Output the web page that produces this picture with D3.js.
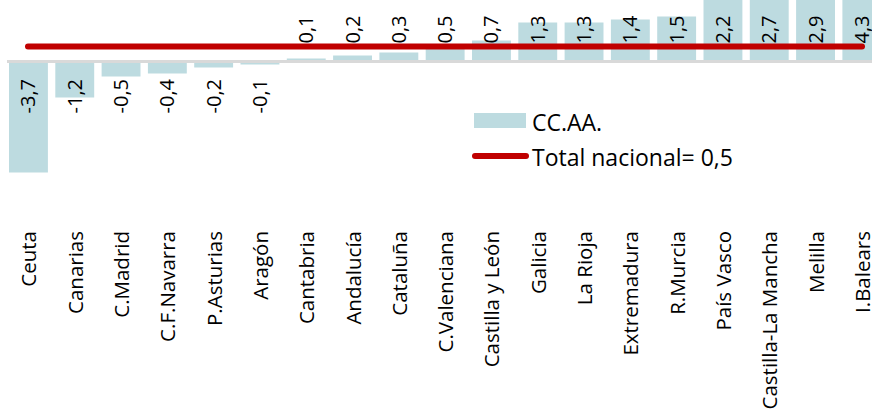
<!DOCTYPE html>
<html>
<head>
<meta charset="utf-8">
<script src="https://cdn.jsdelivr.net/npm/d3@7"></script>
<style>
  html, body { margin: 0; padding: 0; background: #fff; }
  svg { display: block; }
  text { font-family: "Open Sans", sans-serif; fill: #000; }
</style>
</head>
<body>
<svg id="chart" width="872" height="416"></svg>
<script>
const categories = ["Ceuta","Canarias","C.Madrid","C.F.Navarra","P.Asturias","Aragón","Cantabria","Andalucía","Cataluña","C.Valenciana","Castilla y León","Galicia","La Rioja","Extremadura","R.Murcia","País Vasco","Castilla-La Mancha","Melilla","I.Balears"];
const values = [-3.7,-1.2,-0.5,-0.4,-0.2,-0.1,0.1,0.2,0.3,0.5,0.7,1.3,1.3,1.4,1.5,2.2,2.7,2.9,4.3];
const totalNacional = 0.5;
const seriesNames = ["CC.AA.", "Total nacional= 0,5"];

const fmt = v => String(v).replace(".", ",");

const svg = d3.select("#chart");
const step = 46.3;
const x = d3.scaleBand().domain(categories)
  .range([5.3, 5.3 + step * categories.length])
  .paddingInner(0.16).paddingOuter(0.08);
const y = d3.scaleLinear().domain([-4, 5]).range([61.5 + 120, 61.5 - 150]);

const barColor = "#bddbe0";
const red = "#c00000";

// bars
svg.append("g").selectAll("rect").data(values).join("rect")
  .attr("x", (d, i) => x(categories[i]))
  .attr("width", x.bandwidth())
  .attr("y", d => Math.min(y(d), y(0)))
  .attr("height", d => Math.abs(y(d) - y(0)))
  .attr("fill", barColor);

// zero axis line
svg.append("line")
  .attr("x1", 7).attr("x2", 872)
  .attr("y1", y(0)).attr("y2", y(0))
  .attr("stroke", "#d9d9d9").attr("stroke-width", 3);

// value labels
svg.append("g").selectAll("text").data(values).join("text")
  .attr("transform", (d, i) => {
    const cx = x(categories[i]) + x.bandwidth() / 2 + 7;
    const yy = d >= 0 ? 43.5 : 79;
    return `translate(${cx},${yy}) rotate(-90)`;
  })
  .attr("text-anchor", d => d >= 0 ? "start" : "end")
  .style("font-size", "20px")
  .text(d => fmt(d));

// total line
const xFirst = x(categories[0]) + x.bandwidth() / 2;
const xLast = x(categories[categories.length - 1]) + x.bandwidth() / 2;
svg.append("line")
  .attr("x1", 28).attr("x2", 862)
  .attr("y1", y(totalNacional)).attr("y2", y(totalNacional))
  .attr("stroke", red).attr("stroke-width", 6).attr("stroke-linecap", "round");

// category labels
svg.append("g").selectAll("text").data(categories).join("text")
  .attr("transform", d => `translate(${x(d) + x.bandwidth() / 2 + 8},231) rotate(-90)`)
  .attr("text-anchor", "end")
  .style("font-size", "20.5px")
  .text(d => d);

// legend
const lg = svg.append("g");
lg.append("rect").attr("x", 474).attr("y", 113).attr("width", 52).attr("height", 15).attr("fill", barColor);
lg.append("text").attr("x", 532).attr("y", 131).style("font-size", "23px").text(seriesNames[0]);
lg.append("line").attr("x1", 475).attr("x2", 526).attr("y1", 156).attr("y2", 156)
  .attr("stroke", red).attr("stroke-width", 6).attr("stroke-linecap", "round");
lg.append("text").attr("x", 532).attr("y", 166).style("font-size", "23px").text(seriesNames[1]);
</script>
</body>
</html>
